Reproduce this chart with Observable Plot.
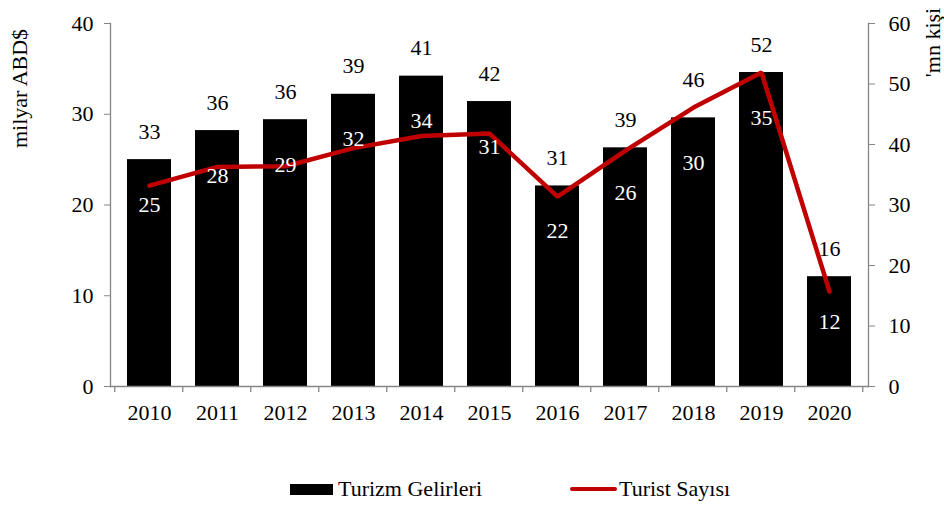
<!DOCTYPE html>
<html>
<head>
<meta charset="utf-8">
<script src="https://cdn.jsdelivr.net/npm/d3@7"></script>
<script src="https://cdn.jsdelivr.net/npm/@observablehq/plot@0.6"></script>
<style>
  body { margin: 0; background: #fff; }
  #wrap { position: relative; width: 944px; height: 505px; font-family: 'Liberation Serif', 'Times New Roman', serif; }
  #legend { position: absolute; left: 0; top: 450px; width: 944px; height: 55px; font-size: 22px; color: #000; }
  .item { position: absolute; top: 27px; display: flex; align-items: center; height: 24px; }
  .sw-bar { width: 43px; height: 11px; background: #000; margin-right: 5px; }
  .sw-line { width: 47px; height: 4px; background: #C00000; border-radius: 2px; margin-right: 2px; }
</style>
</head>
<body>
<div id="wrap">
  <div id="chart"></div>
  <div id="legend">
    <div class="item" style="left:290px"><div class="sw-bar"></div><span>Turizm Gelirleri</span></div>
    <div class="item" style="left:570px"><div class="sw-line"></div><span>Turist Sayısı</span></div>
  </div>
</div>
<script>
const years = ["2010","2011","2012","2013","2014","2015","2016","2017","2018","2019","2020"];
const revenue = [25.0, 28.2, 29.4, 32.2, 34.2, 31.4, 22.1, 26.3, 29.6, 34.6, 12.1];   // milyar ABD$
const tourists = [33.2, 36.3, 36.4, 39.4, 41.4, 41.8, 31.4, 39.0, 46.1, 51.9, 15.7]; // mn kişi
const leftTicks = [0, 10, 20, 30, 40];
const rightTicks = [0, 10, 20, 30, 40, 50, 60];

const k = 40 / 60;
const rows = years.map((year, i) => ({year, revenue: revenue[i], tourists: tourists[i], t: tourists[i] * k}));
const padInner = 0.36;
const axisGray = "#868686";
const fs = 22;

function bandTicks(index, scales, values, dimensions) {
  const x = scales.x;
  const step = x(years[1]) - x(years[0]);
  const gap = step * padInner;
  const xs = years.map(d => x(d) - gap / 2);
  xs.push(x(years[years.length - 1]) + step - gap / 2);
  const y0 = dimensions.height - dimensions.marginBottom;
  const g = d3.create("svg:g");
  for (const xx of xs) {
    g.append("line").attr("x1", xx).attr("x2", xx).attr("y1", y0).attr("y2", y0 + 6)
      .attr("stroke", axisGray).attr("stroke-width", 1.3);
  }
  return g.node();
}

const chart = Plot.plot({
  width: 944,
  height: 450,
  marginTop: 23,
  marginBottom: 64,
  marginLeft: 110,
  marginRight: 76,
  style: {fontFamily: "'Liberation Serif', 'Times New Roman', serif", fontSize: fs + "px", color: "#000", background: "#fff"},
  x: {domain: years, paddingInner: padInner, paddingOuter: padInner / 2, axis: null},
  y: {domain: [0, 40], axis: null},
  marks: [
    Plot.barY(rows, {x: "year", y: "revenue", fill: "#000"}),
    Plot.line(rows, {x: "year", y: "t", stroke: "#C00000", strokeWidth: 4.5, strokeLinejoin: "miter", strokeLinecap: "round"}),
    Plot.text(rows, {x: "year", y: "revenue", text: d => String(Math.round(d.revenue)), fill: "#fff", dy: 45, fontSize: fs}),
    Plot.text(rows, {x: "year", y: d => Math.max(d.revenue, d.t), text: d => String(Math.round(d.tourists)), fill: "#000", dy: -28, fontSize: fs}),
    Plot.frame({anchor: "left", stroke: axisGray, strokeWidth: 1.3}),
    Plot.frame({anchor: "right", stroke: axisGray, strokeWidth: 1.3}),
    Plot.frame({anchor: "bottom", stroke: axisGray, strokeWidth: 1.3}),
    Plot.axisY({anchor: "left", ticks: leftTicks, tickSize: 6, tickPadding: 11, stroke: axisGray, fill: "#000", fontSize: fs, label: null}),
    Plot.axisY({anchor: "right", ticks: rightTicks.map(v => v * k), tickFormat: d => String(Math.round(d / k)), tickSize: 6, tickPadding: 14, stroke: axisGray, fill: "#000", fontSize: fs, label: null}),
    Plot.axisX({anchor: "bottom", tickSize: 0, tickPadding: 18, fill: "#000", fontSize: fs, label: null}),
    bandTicks,
    Plot.text(["milyar ABD$"], {frameAnchor: "top-left", dx: -91, dy: 65, rotate: -90, textAnchor: "middle", lineAnchor: "middle", fontSize: fs, fill: "#000"}),
    Plot.text(["'mn kişi"], {frameAnchor: "top-right", dx: 64, dy: 19, rotate: -90, textAnchor: "middle", lineAnchor: "middle", fontSize: fs, fill: "#000"})
  ]
});
document.getElementById("chart").appendChild(chart);
</script>
</body>
</html>
